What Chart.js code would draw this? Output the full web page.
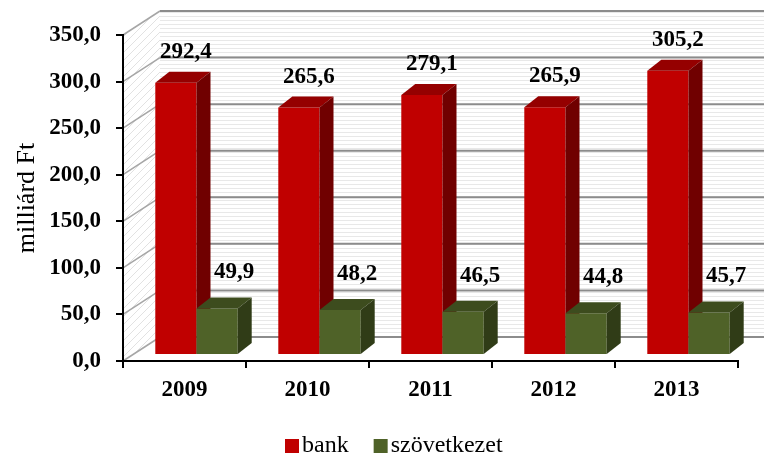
<!DOCTYPE html>
<html>
<head>
<meta charset="utf-8">
<script src="https://cdn.jsdelivr.net/npm/chart.js@4.4.0/dist/chart.umd.min.js"></script>
<style>body{margin:0;background:#fff}</style>
</head>
<body>
<canvas id="myChart" width="764" height="456"></canvas>
<script>
const years = ['2009', '2010', '2011', '2012', '2013']
const bank = [292.4, 265.6, 279.1, 265.9, 305.2]
const szovetkezet = [49.9, 48.2, 46.5, 44.8, 45.7]
const yTicks = [0, 50, 100, 150, 200, 250, 300, 350]
const seriesNames = ['bank', 'szövetkezet']

const serif = '"Liberation Serif", "Times New Roman", serif'
// 3D offsets
const wallDX = 37, wallDY = -24
const barDX = 14, barDY = -11
const shiftX = 12, shiftY = -6

const fmt = (v) => v.toFixed(1).replace('.', ',')

const makePattern = (ctx, size, draw) => {
  const c = document.createElement('canvas')
  c.width = size; c.height = size
  const p = c.getContext('2d')
  p.fillStyle = '#fff'
  p.fillRect(0, 0, size, size)
  draw(p)
  return ctx.createPattern(c, 'repeat')
}

const wallPlugin = {
  id: 'walls',
  beforeDraw(chart) {
    const { ctx, chartArea: a } = chart
    const y = chart.scales.y
    ctx.save()
    // back wall, light horizontal stripes
    ctx.fillStyle = makePattern(ctx, 4, (p) => { p.fillStyle = '#e8e8e8'; p.fillRect(0, 0, 4, 1) })
    ctx.fillRect(a.left + wallDX, a.top + wallDY, a.right - a.left, a.bottom - a.top)
    // side wall, diagonal hatch
    ctx.fillStyle = makePattern(ctx, 8, (p) => {
      p.strokeStyle = '#e2e2e2'; p.lineWidth = 1
      p.beginPath(); p.moveTo(0, 8); p.lineTo(8, 0); p.stroke()
    })
    ctx.beginPath()
    ctx.moveTo(a.left, a.bottom)
    ctx.lineTo(a.left, a.top)
    ctx.lineTo(a.left + wallDX, a.top + wallDY)
    ctx.lineTo(a.left + wallDX, a.bottom + wallDY)
    ctx.closePath()
    ctx.fill()
    // grid lines
    yTicks.forEach((v) => {
      const py = y.getPixelForValue(v)
      ctx.lineWidth = 1.5
      ctx.strokeStyle = '#a6a6a6'
      ctx.beginPath(); ctx.moveTo(a.left, py); ctx.lineTo(a.left + wallDX, py + wallDY); ctx.stroke()
      ctx.lineWidth = 2
      ctx.strokeStyle = '#8c8c8c'
      ctx.beginPath(); ctx.moveTo(a.left + wallDX, py + wallDY); ctx.lineTo(a.right + wallDX + 10, py + wallDY); ctx.stroke()
    })
    ctx.restore()
  }
}

const drawFaces = (ctx, bar, ds) => {
  const l = bar.x - bar.width / 2, r = bar.x + bar.width / 2, t = bar.y, b = bar.base
  ctx.fillStyle = ds.topColor
  ctx.beginPath()
  ctx.moveTo(l, t); ctx.lineTo(l + barDX, t + barDY); ctx.lineTo(r + barDX, t + barDY); ctx.lineTo(r, t)
  ctx.closePath(); ctx.fill()
  ctx.fillStyle = ds.sideColor
  ctx.beginPath()
  ctx.moveTo(r, t); ctx.lineTo(r + barDX, t + barDY); ctx.lineTo(r + barDX, b + barDY); ctx.lineTo(r, b)
  ctx.closePath(); ctx.fill()
}

const boxPlugin = {
  id: 'box3d',
  beforeDatasetsDraw: () => false, // bars are drawn below, in depth order
  afterDraw(chart) {
    const ctx = chart.ctx
    const metas = chart.data.datasets.map((ds, i) => chart.getDatasetMeta(i))
    ctx.save()
    ctx.translate(shiftX, shiftY)
    years.forEach((yr, j) => {
      metas.forEach((meta, i) => {
        const bar = meta.data[j]
        bar.draw(ctx)
        drawFaces(ctx, bar, chart.data.datasets[i])
      })
    })
    ctx.restore()
    // value labels
    ctx.save()
    ctx.font = 'bold 23px ' + serif
    ctx.fillStyle = '#000'
    ctx.textAlign = 'center'
    ctx.textBaseline = 'middle'
    chart.data.datasets.forEach((ds, i) => {
      metas[i].data.forEach((bar, j) => {
        ctx.fillText(fmt(ds.data[j]), bar.x + shiftX + ds.labelDX, bar.y + shiftY - ds.labelDY)
      })
    })
    ctx.restore()
  }
}

const legendPlugin = {
  id: 'legendBoxes',
  afterDraw(chart) {
    const ctx = chart.ctx
    ctx.save()
    ctx.font = '24px ' + serif
    ctx.textBaseline = 'middle'
    let x = 285
    const cy = 446
    chart.data.datasets.forEach((ds) => {
      ctx.fillStyle = ds.backgroundColor
      ctx.fillRect(x, cy - 7, 14, 14)
      ctx.fillStyle = '#000'
      ctx.fillText(ds.label, x + 17, cy)
      x += 17 + ctx.measureText(ds.label).width + 25
    })
    ctx.restore()
  }
}

const dataConfig = {
  labels: years,
  datasets: [{
    label: seriesNames[0],
    data: bank,
    backgroundColor: '#c00000',
    topColor: '#950000',
    sideColor: '#700000',
    labelDX: 10,
    labelDY: 31
  }, {
    label: seriesNames[1],
    data: szovetkezet,
    backgroundColor: '#4f6228',
    topColor: '#3d4c1e',
    sideColor: '#303c17',
    labelDX: 17,
    labelDY: 36
  }]
}

const config = {
  type: 'bar',
  data: dataConfig,
  options: {
    responsive: false,
    animation: false,
    categoryPercentage: 0.67,
    barPercentage: 1,
    layout: { padding: { top: 35, right: 26, left: 0, bottom: 0 } },
    plugins: {
      legend: { display: false },
      tooltip: { enabled: false }
    },
    scales: {
      x: {
        afterFit: (s) => { s.height = 95 },
        grid: { drawOnChartArea: false, tickLength: 7, color: '#000', lineWidth: 2 },
        border: { color: '#000', width: 2 },
        ticks: { color: '#000', padding: 8, font: { family: serif, size: 23, weight: 'bold' } }
      },
      y: {
        min: yTicks[0],
        max: yTicks[yTicks.length - 1],
        afterFit: (s) => { s.width = 123 },
        afterBuildTicks: (s) => { s.ticks = yTicks.map((v) => ({ value: v })) },
        grid: { drawOnChartArea: false, tickLength: 7, color: '#000', lineWidth: 2 },
        border: { color: '#000', width: 2 },
        ticks: {
          color: '#000',
          padding: 15,
          font: { family: serif, size: 23, weight: 'bold' },
          callback: (v) => fmt(v)
        },
        title: {
          display: true,
          text: 'milliárd Ft',
          color: '#000',
          padding: { top: 12 },
          font: { family: serif, size: 26 }
        }
      }
    }
  },
  plugins: [wallPlugin, boxPlugin, legendPlugin]
}

const myChart = new Chart(document.getElementById('myChart'), config)
</script>
</body>
</html>
